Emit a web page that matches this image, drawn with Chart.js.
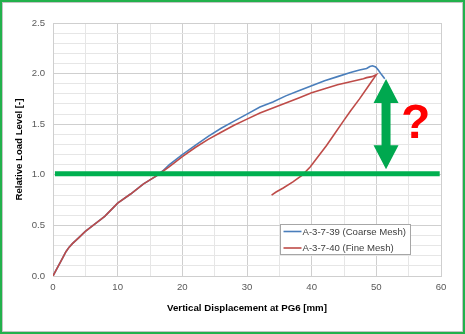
<!DOCTYPE html>
<html>
<head>
<meta charset="utf-8">
<script src="https://cdn.jsdelivr.net/npm/chart.js@4/dist/chart.umd.min.js"></script>
<style>
html,body{margin:0;padding:0;background:#fff;}
canvas{display:block;}
</style>
</head>
<body>
<canvas id="c" width="465" height="334"></canvas>
<script>
// ---- data ----
const coarseX = [0,0.5,1,1.5,2,2.5,3,4,5,6,7,8,10,12,14,16,17,18,20,22,24,26,28,30,32,34,36,38,40,42,44,46,47.4,48.5,49.0,49.4,49.9,50.3,50.8,51.3];
const coarseY = [0,0.06,0.12,0.18,0.24,0.285,0.32,0.38,0.44,0.49,0.54,0.59,0.72,0.81,0.91,0.99,1.04,1.10,1.20,1.29,1.38,1.46,1.53,1.60,1.67,1.72,1.78,1.83,1.88,1.93,1.97,2.01,2.035,2.05,2.07,2.077,2.065,2.035,1.99,1.95];
const fineX = [0,0.5,1,1.5,2,2.5,3,4,5,6,7,8,10,12,14,16,17,18,20,22,24,26,28,30,32,34,36,38,40,42,44,46,48,48.5,49.3,50,48.7,47.4,46,44.9,43.5,42.3,41,39.8,38.6,37.1,35.6,34.5,33.8];
const fineY = [0,0.06,0.12,0.18,0.24,0.285,0.32,0.38,0.44,0.49,0.54,0.59,0.72,0.81,0.91,0.99,1.035,1.08,1.18,1.27,1.35,1.42,1.49,1.55,1.61,1.66,1.71,1.76,1.81,1.85,1.89,1.92,1.95,1.96,1.97,1.99,1.87,1.75,1.63,1.53,1.40,1.29,1.18,1.08,1.00,0.93,0.87,0.83,0.80];
const limitX = [0.3, 59.8];
const limitY = [1.01, 1.01];
const arrowX = 51.5, arrowTop = 1.947, arrowBottom = 1.054;
const markX = 56.1, markY = 1.36, markText = '?';
const seriesLabels = ['A-3-7-39 (Coarse Mesh)', 'A-3-7-40 (Fine Mesh)'];
const xTicks = {min:0, max:60, step:5, labelEvery:10};
const yTicks = {min:0, max:2.5, step:0.1, labelEvery:0.5};
const xTitle = 'Vertical Displacement at PG6 [mm]';
const yTitle = 'Relative Load Level [-]';

const pts = (xs, ys) => xs.map((x, i) => ({x, y: ys[i]}));
const FONT = '"Liberation Sans", Arial, sans-serif';
const MAJOR = '#cfcfcf', MINOR = '#e6e6e6';

const bgPlugin = {
  id: 'bg',
  beforeDraw(chart) {
    const c = chart.ctx;
    c.save(); c.fillStyle = '#fff'; c.fillRect(0, 0, chart.width, chart.height); c.restore();
  }
};

const decoPlugin = {
  id: 'deco',
  afterDatasetsDraw(chart) {
    const c = chart.ctx, xs = chart.scales.x, ys = chart.scales.y;
    // double arrow
    const xc = xs.getPixelForValue(arrowX);
    const yt = ys.getPixelForValue(arrowTop);
    const yb = ys.getPixelForValue(arrowBottom);
    const hh = 24, hw = 12.5, sw = 4.5;
    c.save();
    c.fillStyle = '#00a84f';
    c.beginPath();
    c.moveTo(xc, yt);
    c.lineTo(xc + hw, yt + hh);
    c.lineTo(xc + sw, yt + hh);
    c.lineTo(xc + sw, yb - hh);
    c.lineTo(xc + hw, yb - hh);
    c.lineTo(xc, yb);
    c.lineTo(xc - hw, yb - hh);
    c.lineTo(xc - sw, yb - hh);
    c.lineTo(xc - sw, yt + hh);
    c.lineTo(xc - hw, yt + hh);
    c.closePath();
    c.fill();
    // question mark
    c.fillStyle = '#ff0000';
    c.font = 'bold 48px ' + FONT;
    c.textAlign = 'center';
    c.textBaseline = 'alphabetic';
    c.fillText(markText, xs.getPixelForValue(markX), ys.getPixelForValue(markY));
    // legend
    const a = chart.chartArea;
    const lx = a.left + 227.5, ly = a.top + 201.5, lw = 130, lh = 30;
    c.fillStyle = '#fff';
    c.fillRect(lx, ly, lw, lh);
    c.strokeStyle = '#a6a6a6';
    c.lineWidth = 1;
    c.strokeRect(lx, ly, lw, lh);
    c.font = '9.6px ' + FONT;
    c.textAlign = 'left';
    c.textBaseline = 'middle';
    const items = chart.data.datasets.filter(d => d.inLegend);
    items.forEach((d, i) => {
      const yy = ly + 7 + i * 16.5;
      c.strokeStyle = d.borderColor;
      c.lineWidth = 1.6;
      c.beginPath();
      c.moveTo(lx + 3, yy); c.lineTo(lx + 21, yy);
      c.stroke();
      c.fillStyle = '#404040';
      c.fillText(d.label, lx + 22, yy + 0.5);
    });
    c.restore();
  },
  afterDraw(chart) {
    const c = chart.ctx;
    c.save();
    c.strokeStyle = '#c4c4c4';
    c.lineWidth = 1;
    c.strokeRect(2.5, 2.5, chart.width - 5, chart.height - 5);
    c.strokeStyle = '#22b14c';
    c.lineWidth = 2;
    c.strokeRect(1, 1, chart.width - 2, chart.height - 2);
    c.restore();
  }
};

new Chart(document.getElementById('c'), {
  type: 'scatter',
  data: {
    datasets: [
      {label: seriesLabels[0], inLegend: true, data: pts(coarseX, coarseY), showLine: true,
       borderColor: '#4a7ebb', borderWidth: 1.6, pointRadius: 0, tension: 0, order: 0},
      {label: seriesLabels[1], inLegend: true, data: pts(fineX, fineY), showLine: true,
       borderColor: '#be4b48', borderWidth: 1.6, pointRadius: 0, tension: 0, order: -1},
      {label: 'limit', inLegend: false, data: pts(limitX, limitY), showLine: true,
       borderColor: '#00b050', borderWidth: 5, pointRadius: 0, order: -2}
    ]
  },
  options: {
    responsive: false,
    animation: false,
    events: [],
    layout: {padding: {left: 14, right: 24, top: 23, bottom: 20}},
    plugins: {legend: {display: false}, tooltip: {enabled: false}},
    scales: {
      x: {
        type: 'linear', min: xTicks.min, max: xTicks.max,
        afterFit(s) { s.height = 38; },
        ticks: {
          stepSize: xTicks.step, autoSkip: false, maxRotation: 0, padding: 6,
          color: '#595959', font: {family: FONT, size: 9.6},
          callback: v => (Math.abs(v % xTicks.labelEvery) < 1e-6 ? String(v) : '')
        },
        grid: {
          drawTicks: false,
          color: ctx => (ctx.tick && Math.abs(ctx.tick.value % xTicks.labelEvery) < 1e-6 ? MAJOR : MINOR)
        },
        border: {color: MAJOR},
        title: {display: true, text: xTitle, color: '#000', padding: {top: 0, bottom: 0},
                font: {family: FONT, size: 9.7, weight: 'bold'}}
      },
      y: {
        type: 'linear', min: yTicks.min, max: yTicks.max,
        afterFit(s) { s.width = 39; },
        ticks: {
          stepSize: yTicks.step, autoSkip: false, padding: 8,
          color: '#595959', font: {family: FONT, size: 9.6},
          callback: v => {
            const r = Math.round(v * 10);
            return r % Math.round(yTicks.labelEvery * 10) === 0 ? (r / 10).toFixed(1) : '';
          }
        },
        grid: {
          drawTicks: false,
          color: ctx => {
            if (!ctx.tick) return MINOR;
            const r = Math.round(ctx.tick.value * 10);
            return r % 5 === 0 ? MAJOR : MINOR;
          }
        },
        border: {color: MAJOR},
        title: {display: true, text: yTitle, color: '#000', padding: {top: 0, bottom: 0},
                font: {family: FONT, size: 9.6, weight: 'bold'}}
      }
    }
  },
  plugins: [bgPlugin, decoPlugin]
});
</script>
</body>
</html>
